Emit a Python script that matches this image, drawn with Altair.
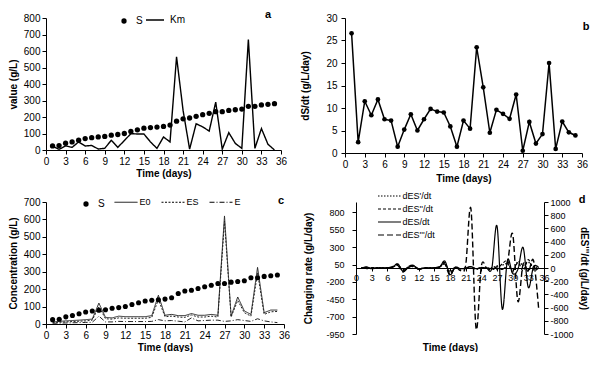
import altair as alt
import pandas as pd

F = "Liberation Sans"

# ---------------- data ----------------
days = list(range(1, 36))
S = [25, 27, 41, 49, 59, 69, 75, 79, 82, 90, 94, 100, 112, 122, 132, 136, 139, 143, 151, 175,
     189, 194, 204, 214, 222, 232, 232, 240, 244, 248, 265, 265, 273, 277, 281]
Km = [23, 4, 25, 16, 49, 24, 28, 6, 10, 59, 16, 57, 99, 97, 97, 49, 10, 79, 49, 565,
      240, 5, 159, 140, 115, 290, 5, 105, 40, 10, 670, 10, 130, 35, 0]
dSdt = [26.6, 2.4, 11.5, 8.4, 11.9, 7.5, 7.2, 1.4, 5.2, 8.6, 5.0, 7.5, 9.8, 9.2, 9.0, 5.9, 1.4,
        7.2, 5.4, 23.5, 14.6, 4.5, 9.6, 8.7, 7.6, 13.0, 0.5, 6.9, 2.1, 4.2, 20.0, 0.9, 7.0, 4.6, 3.9]
E0 = [12, 15, 18, 20, 22, 25, 28, 120, 38, 35, 45, 42, 42, 42, 42, 48, 165, 50, 55, 48,
      48, 60, 50, 50, 55, 50, 620, 45, 155, 75, 55, 325, 65, 80, 80]
ES = [8, 10, 12, 14, 16, 18, 22, 100, 30, 28, 35, 33, 33, 33, 33, 38, 140, 42, 45, 40,
      38, 52, 40, 40, 45, 40, 590, 40, 135, 65, 45, 295, 55, 70, 72]
E = [4, 5, 6, 7, 8, 9, 10, 45, 12, 12, 15, 14, 14, 14, 14, 15, 25, 18, 20, 16,
     12, 35, 18, 20, 22, 22, 15, 18, 25, 20, 15, 30, 18, 12, 8]
dES1 = [0, 10, -5, 0, 5, 0, 10, 40, -30, 10, 20, -10, 0, 0, 5, 10, 60, -50, 5, -10,
        0, 15, -10, 5, 0, 5, 30, 40, 60, -30, 90, 40, 80, 20, 10]
dES2 = [0, -10, 5, 0, -5, 5, 15, 50, -40, 15, 25, -20, 5, 0, 0, 15, 80, -70, 10, -15,
        -5, 20, -20, 10, -5, -10, -20, 60, 100, -60, 80, -40, 120, -30, 0]
dES = [0, 15, -5, 5, 0, 5, 10, 60, -50, 5, 30, -10, 0, 0, 5, 10, 100, -95, 10, -10,
       0, 20, -10, 5, 0, -5, 605, -590, 110, -80, -20, 295, -280, 20, 5]
dES3 = [0, 10, -10, 0, 0, 0, 20, 40, -60, 20, 40, -20, 0, 0, 0, 20, 60, -110, 20, -40,
        40, 900, -920, 30, 0, -30, 20, -20, 80, 515, -505, 60, -60, 110, -640]

XT = list(range(0, 37, 3))
XS = alt.Scale(domain=[0, 36], nice=False)
LBL = "datum.value + ''"


def long(names, series):
    rows = []
    for n, vals in zip(names, series):
        for d, v in zip(days, vals):
            rows.append({"day": d, "value": v, "series": n})
    return pd.DataFrame(rows)


def letter(t, x, y):
    return alt.Chart(pd.DataFrame({"t": [t]})).mark_text(
        font=F, fontSize=11, fontWeight="bold", color="black"
    ).encode(text="t:N", x=alt.value(x), y=alt.value(y))


LINE = "M-2.875,0L2.875,0"
LINE_A = "M-2.25,0L2.25,0"


def dot_legend(x, y):
    return alt.Legend(title=None, orient="none", legendX=x, legendY=y, symbolSize=28,
                      symbolFillColor="black", symbolStrokeColor="black", symbolOpacity=1,
                      labelFont=F, labelFontSize=10, labelOffset=7, padding=0)


RES = dict(shape="independent", strokeDash="independent")

# ---------------- panel a ----------------
dfS = long(["S"], [S])
dfKm = long(["Km"], [Km])
ya = alt.Y("value:Q", scale=alt.Scale(domain=[0, 800], nice=False),
           axis=alt.Axis(values=list(range(0, 801, 100)), title="value (g/L)", titlePadding=5))
xa = alt.X("day:Q", scale=XS, axis=alt.Axis(values=XT, title="Time (days)", titlePadding=2))
a_pts = alt.Chart(dfS).mark_point(filled=True, size=28, opacity=1, color="black").encode(
    x=xa, y=ya,
    shape=alt.Shape("series:N", scale=alt.Scale(domain=["S"], range=["circle"]),
                    legend=dot_legend(73, -2)))
a_line = alt.Chart(dfKm).mark_line(color="black", strokeWidth=1.4).encode(
    x=xa, y=ya,
    strokeDash=alt.StrokeDash("series:N", scale=alt.Scale(domain=["Km"], range=[[1, 0]]),
                              legend=alt.Legend(title=None, orient="none", legendX=97, legendY=-3,
                                                symbolType=LINE_A, symbolSize=64, symbolOffset=7,
                                                symbolStrokeColor="black", symbolStrokeWidth=1.4,
                                                labelFont=F, labelFontSize=10, labelOffset=10,
                                                padding=0)))
pa = alt.layer(a_line, a_pts, letter("a", 222, -3)).resolve_scale(**RES).resolve_legend(**RES).properties(
    width=235, height=132)

# ---------------- panel b ----------------
dfb = pd.DataFrame({"day": days, "v": dSdt})
b_line = alt.Chart(dfb).mark_line(color="black", strokeWidth=1.5,
                                  point=alt.OverlayMarkDef(filled=True, size=22, color="black", opacity=1)).encode(
    x=alt.X("day:Q", scale=XS, axis=alt.Axis(values=XT, title="Time (days)", titlePadding=4)),
    y=alt.Y("v:Q", scale=alt.Scale(domain=[0, 30], nice=False),
            axis=alt.Axis(values=list(range(0, 31, 5)), title="dS/dt (g/L/day)",
                          titlePadding=15, labelPadding=4)),
)
pb = alt.layer(b_line, letter("b", 241, 9)).properties(width=237, height=135)

# ---------------- panel c ----------------
dfE = long(["E0", "ES", "E"], [E0, ES, E])
yc = alt.Y("value:Q", scale=alt.Scale(domain=[0, 700], nice=False),
           axis=alt.Axis(values=list(range(0, 701, 100)), title="Concentration (g/L)", titlePadding=5))
xc = alt.X("day:Q", scale=XS, axis=alt.Axis(values=XT, title="Time (days)", titlePadding=2))
c_pts = alt.Chart(dfS).mark_point(filled=True, size=26, opacity=1, color="black").encode(
    x=xc, y=yc,
    shape=alt.Shape("series:N", scale=alt.Scale(domain=["S"], range=["circle"]),
                    legend=dot_legend(35, -3)))
c_lines = alt.Chart(dfE).mark_line(color="#222222", strokeWidth=1).encode(
    x=xc, y=yc, detail="series:N",
    strokeDash=alt.StrokeDash("series:N",
                              scale=alt.Scale(domain=["E0", "ES", "E"], range=[[1, 0], [2, 1.5], [5, 2, 1, 2]]),
                              legend=alt.Legend(title=None, orient="none", legendX=68, legendY=-4.5,
                                                direction="horizontal", columns=3,
                                                symbolType=LINE, symbolSize=64, symbolOffset=7.5,
                                                symbolStrokeColor="black", symbolStrokeWidth=1,
                                                labelFont=F, labelFontSize=9, labelOffset=9,
                                                columnPadding=8, padding=0)))
pc = alt.layer(c_lines, c_pts, letter("c", 235, -1.5)).resolve_scale(**RES).resolve_legend(**RES).properties(
    width=238, height=122)

# ---------------- panel d ----------------
d_names = ["dES'/dt", "dES''/dt", "dES/dt", "dES'''/dt"]
d_dash = [[1.5, 1.5], [3, 2], [1, 0], [6, 3]]
d_leg = alt.Legend(title=None, orient="none", legendX=21, legendY=-11, direction="vertical",
                   symbolType=LINE, symbolSize=64, symbolOffset=7.5,
                   symbolStrokeColor="black", symbolStrokeWidth=1.2,
                   labelFont=F, labelFontSize=9, labelOffset=8, rowPadding=3, padding=0)
dash = alt.StrokeDash("series:N", scale=alt.Scale(domain=d_names, range=d_dash), legend=d_leg)
xd = alt.X("day:Q", scale=XS,
           axis=alt.Axis(values=XT, title="Time  (days)", offset=-66, labelPadding=2, tickSize=3,
                         labelFontSize=9, titlePadding=60))
dfL = long(d_names[:3], [dES1, dES2, dES])
dfR = long(d_names[3:], [dES3])
d_left = alt.Chart(dfL).mark_line(color="black", strokeWidth=1.2, interpolate="cardinal").encode(
    x=xd,
    y=alt.Y("value:Q", scale=alt.Scale(domain=[-950, 950], nice=False),
            axis=alt.Axis(values=[-950, -700, -450, -200, 50, 300, 550, 800], labelExpr=LBL,
                          title="Changing  rate (g/L/day)", labelFontSize=9, titlePadding=12,
                          labelPadding=8)),
    detail="series:N", strokeDash=dash)
d_right = alt.Chart(dfR).mark_line(color="black", strokeWidth=1.4, interpolate="cardinal").encode(
    x=xd,
    y=alt.Y("value:Q", scale=alt.Scale(domain=[-1000, 1000], nice=False),
            axis=alt.Axis(values=list(range(-1000, 1001, 200)), orient="right", labelExpr=LBL,
                          title="dES'''/dt (g/L/day)", labelFontSize=9, titlePadding=5)),
    detail="series:N", strokeDash=dash)
pd_ = alt.layer(d_left, d_right, letter("d", 226, -2.5)).resolve_scale(y="independent").properties(
    width=188, height=132)

row1 = alt.hconcat(pa, pb, spacing=13).resolve_scale(**RES).resolve_legend(**RES)
row2 = alt.hconcat(pc, pd_, spacing=13).resolve_scale(**RES).resolve_legend(**RES)

chart = alt.vconcat(row1, row2, spacing=8).resolve_scale(**RES).resolve_legend(**RES).properties(
    padding={"left": 0, "top": 1, "right": 0, "bottom": 0}, background="white"
).configure_view(stroke=None).configure_axis(
    labelFont=F, titleFont=F, labelFontSize=10, titleFontSize=10, titleFontWeight="bold",
    labelColor="black", titleColor="black", domainColor="black", tickColor="black",
    domainWidth=1, tickWidth=1, tickSize=4, labelPadding=2, grid=False,
    labelFlush=False, labelOverlap=False,
)

chart.save("out.html", embed_options={"renderer": "svg", "actions": False})
